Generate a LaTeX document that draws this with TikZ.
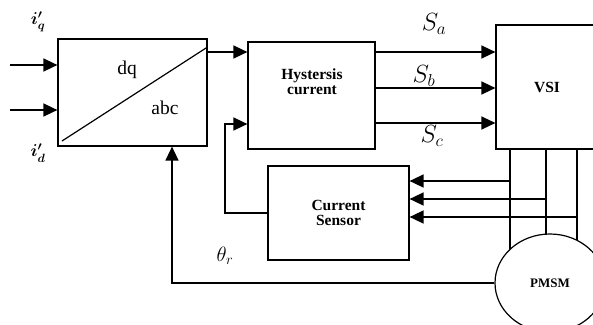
\documentclass[tikz,border=0pt]{standalone}
\usepackage{fontspec}
\setmainfont{Liberation Serif}
\usepackage{amsmath}
\usetikzlibrary{shapes.geometric, arrows.meta}

\begin{document}
\begin{tikzpicture}[x=1pt,y=-1pt]
        \tikzstyle{proc} = [rectangle, draw=black, line width=1.2pt, text centered, font=\fontsize{15.5}{18}\selectfont\bfseries]
        \tikzstyle{motor} = [ellipse, draw=black, fill=white, line width=1.2pt, minimum width=110pt, minimum height=98pt, font=\fontsize{13}{15}\selectfont\bfseries]
        \tikzstyle{arrow} = [line width=1.5pt, -{Triangle[length=14pt,width=13pt]}]
        \tikzstyle{wire} = [line width=1.5pt]
        \tikzstyle{sig} = [font=\fontsize{23}{25}\selectfont]
        \useasboundingbox (0,0) rectangle (593,324);
        \clip (0,0) rectangle (593,324);
        \node [proc, minimum width=149pt, minimum height=107pt] (dq) at (132.5,92.5) {};
        \node [proc, minimum width=127pt, minimum height=107pt] (hc) at (311.5,95.5) {};
        \node [proc, minimum width=102pt, minimum height=124pt] (vsi) at (547,87) {VSI};
        \node [proc, align=center, minimum width=141pt, minimum height=94pt] (cs) at (338.5,213) {Current\\[-3pt]Sensor};
        \node [font=\fontsize{15.5}{18}\selectfont\bfseries, align=center] (hclab) at (312,82) {Hystersis\\[-3pt]current};
        \node [font=\fontsize{19.5}{22}\selectfont] (dqlab) at (127,70) {dq};
        \node [font=\fontsize{19.5}{22}\selectfont] (abclab) at (165,108) {abc};
        \draw [line width=1.2pt] (62,141) -- (dq.east |- 0,47);
        \coordinate (iq) at (10,65);
        \coordinate (id) at (10,110);
        \node [sig, font=\fontsize{18}{20}\selectfont] at (38,22) {$\boldsymbol{i_q^{\prime}}$};
        \node [sig, font=\fontsize{18}{20}\selectfont] at (38,153) {$\boldsymbol{i_d^{\prime}}$};
     \draw[arrow] (iq) -- (iq -| dq.west);
     \draw[arrow] (id) -- (id -| dq.west);
     \draw[arrow] (dq.east |- 0,52) -- (hc.west |- 0,52);
     \draw[arrow] (cs.west) -| (225,124) -- (hc.west |- 0,124);
     \draw[arrow] (hc.east |- 0,52) -- (vsi.west |- 0,52);
     \draw[arrow] (hc.east |- 0,88) -- (vsi.west |- 0,88);
     \draw[arrow] (hc.east |- 0,123) -- (vsi.west |- 0,123);
        \node [sig] at (434,24) {$S_a$};
        \node [sig] at (424,76) {$S_b$};
        \node [sig] at (432,136) {$S_c$};
     \draw[wire] (vsi.south -| 510,0) -- (510,270);
     \draw[wire] (vsi.south -| 546,0) -- (546,270);
     \draw[wire] (vsi.south -| 577,0) -- (577,270);
     \draw[arrow] (510,181) -- (cs.east |- 0,181);
     \draw[arrow] (546,199) -- (cs.east |- 0,199);
     \draw[arrow] (577,217) -- (cs.east |- 0,217);
        \node [motor] (pm) at (550,283) {PMSM};
     \draw[arrow] (pm.west) -| (dq.south -| 172,0);
        \node [sig, font=\fontsize{21}{23}\selectfont] at (225,256) {$\theta_r$};
    \end{tikzpicture}
\end{document}
